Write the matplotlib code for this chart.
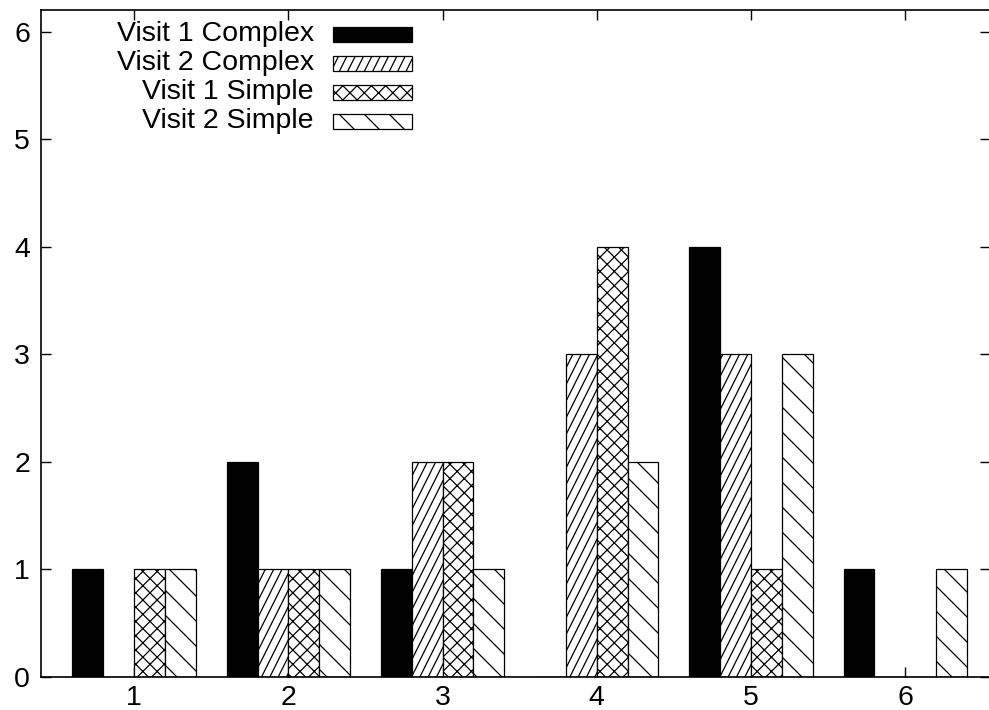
import matplotlib.pyplot as plt
import matplotlib.hatch as mhatch
from matplotlib.patches import Rectangle
from matplotlib.path import Path
import numpy as np

plt.rcParams['font.family'] = ['Liberation Sans', 'DejaVu Sans']
plt.rcParams['hatch.linewidth'] = 0.9

# Количество по каждой категории
categories = [1, 2, 3, 4, 5, 6]
labels = ["Visit 1 Complex", "Visit 2 Complex", "Visit 1 Simple", "Visit 2 Simple"]
visit1_complex = [1, 2, 1, 0, 4, 1]
visit2_complex = [0, 1, 2, 3, 3, 0]
visit1_simple = [1, 1, 2, 4, 1, 0]
visit2_simple = [1, 1, 1, 2, 3, 1]


# Штриховки в духе gnuplot: свои плотности и наклоны
class LineHatch(mhatch.HatchPatternBase):
    char = '/'
    per_char = 6
    dx = 0.5      # смещение по x на высоту ячейки (0.5 -> наклон 2:1)
    flip = False

    def __init__(self, hatch, density):
        n = hatch.count(self.char) * self.per_char
        if self.dx == 0.5:
            n -= n % 2
        self.offsets = np.arange(-n - 1, n + 2) / n if n else np.array([])
        self.num_vertices = 2 * len(self.offsets)

    def set_vertices_and_codes(self, vertices, codes):
        y0, y1 = (1.0, 0.0) if self.flip else (0.0, 1.0)
        for k, a in enumerate(self.offsets):
            vertices[2 * k] = (a, y0)
            vertices[2 * k + 1] = (a + self.dx, y1)
        codes[0::2] = Path.MOVETO
        codes[1::2] = Path.LINETO


class SteepHatch(LineHatch):
    char, per_char, dx, flip = '/', 6, 0.5, False


class BackHatch(LineHatch):
    char, per_char, dx, flip = '\\', 4, 1.0, True


class CrossUpHatch(LineHatch):
    char, per_char, dx, flip = 'x', 7, 1.0, False


class CrossDownHatch(LineHatch):
    char, per_char, dx, flip = 'x', 7, 1.0, True


mhatch._hatch_types = [h for h in mhatch._hatch_types
                       if h not in (mhatch.NorthEastHatch, mhatch.SouthEastHatch)]
mhatch._hatch_types += [SteepHatch, BackHatch, CrossUpHatch, CrossDownHatch]

series = [visit1_complex, visit2_complex, visit1_simple, visit2_simple]
fills = ["black", "white", "white", "white"]
hatches = [None, "//", "x", "\\"]

fig = plt.figure(figsize=(9.89, 7.10), dpi=100)
ax = fig.add_axes([41 / 989, 33 / 710, 949 / 989, 667 / 710])

x = np.array(categories, dtype=float)
width = 0.2
for i, values in enumerate(series):
    ax.bar(x - 0.4 + width * i, values, width, align="edge",
           color=fills[i], edgecolor="black", linewidth=0.9,
           hatch=hatches[i], zorder=2)

ax.set_xlim(0.396, 6.55)
ax.set_ylim(0, 6.2)
ax.set_xticks(categories)
ax.set_yticks(range(7))
ax.tick_params(direction="in", length=7, width=1, labelsize=20.5,
               top=True, right=True, pad=8)
ax.tick_params(axis="x", pad=6)
for s in ax.spines.values():
    s.set_linewidth(1.2)
    s.set_zorder(3)
ax.set_axisbelow(True)

# Легенда: подписи слева, образцы справа
sw_x0, sw_w, sw_h = 333, 79, 15
row_y = [34, 63, 92, 121]
for i, lab in enumerate(labels):
    y = row_y[i]
    rect = Rectangle((sw_x0 / 989, (710 - y - sw_h / 2) / 710), sw_w / 989, sw_h / 710,
                     transform=fig.transFigure, facecolor=fills[i], edgecolor="black",
                     linewidth=0.9, hatch=hatches[i])
    fig.patches.append(rect)
    fig.text(314 / 989, (710 - y) / 710, lab, ha="right", va="center", fontsize=20.5)

fig.savefig("out.png", dpi=100)
